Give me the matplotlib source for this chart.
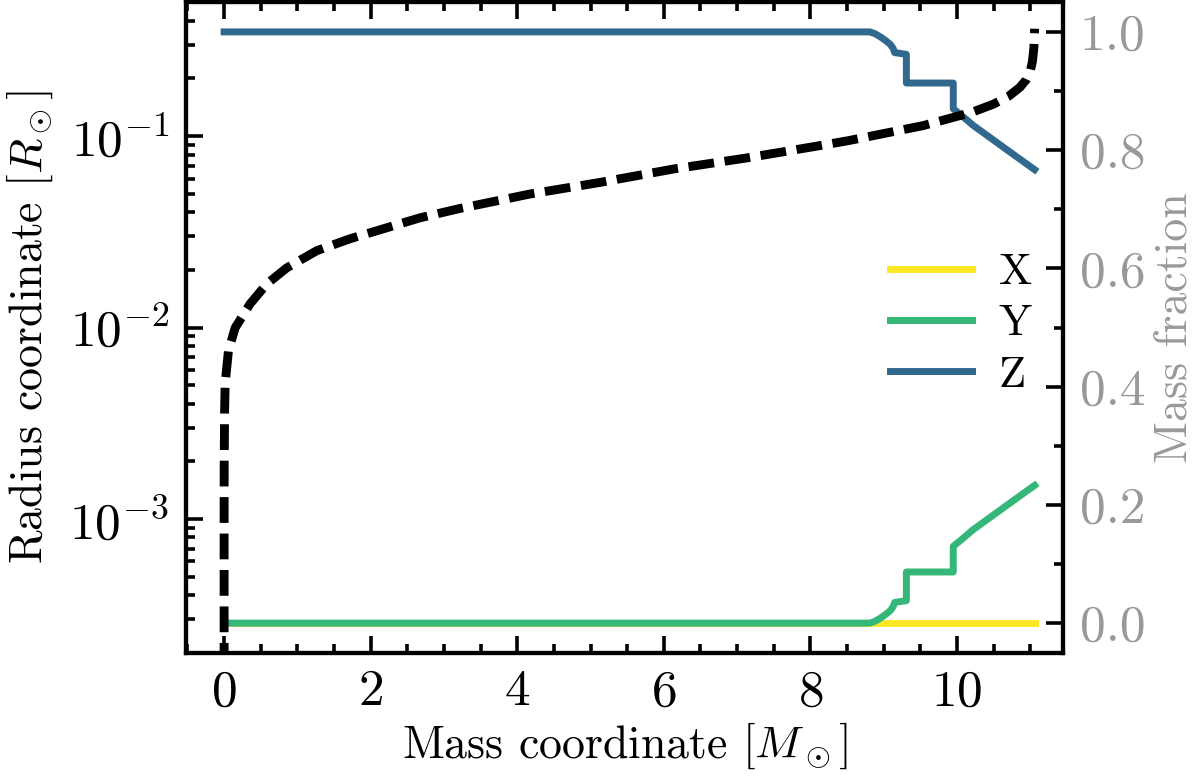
import matplotlib
matplotlib.use('Agg')
import matplotlib.pyplot as plt
from matplotlib.ticker import MultipleLocator, FormatStrFormatter

plt.rcParams['font.family'] = 'serif'
plt.rcParams['font.serif'] = ['cmr10']
plt.rcParams['mathtext.fontset'] = 'cm'
plt.rcParams['axes.formatter.use_mathtext'] = True
plt.rcParams['font.size'] = 16.5

# radius profile
m_r = [0.0, 1e-6, 1e-5, 1e-4, 0.001, 0.007, 0.014, 0.059, 0.150, 0.355, 0.583,
       0.855, 1.265, 1.72, 2.22, 2.67, 3.22, 4.17, 5.13, 6.13, 7.13, 8.13,
       8.52, 9.54, 10.20, 10.50, 10.70, 10.86, 10.95, 11.00, 11.03, 11.05,
       11.06]
radius = [1e-5, 1.9e-4, 4.1e-4, 8.9e-4, 0.0019, 0.00367, 0.00508, 0.00755,
          0.00995, 0.0133, 0.0169, 0.0205, 0.0252, 0.0291, 0.0332, 0.0374,
          0.0419, 0.0498, 0.0573, 0.0673, 0.0769, 0.0892, 0.0947, 0.1135,
          0.133, 0.147, 0.161, 0.180, 0.198, 0.218, 0.245, 0.290, 0.364]

# composition profile
m_c = [0.0, 8.81, 8.88, 8.95, 9.02, 9.09, 9.13, 9.15, 9.31, 9.31, 9.95, 9.95,
       10.04, 10.22, 10.41, 10.70, 11.06]
X = [0.0] * len(m_c)
Y = [0.0, 0.0, 0.003, 0.008, 0.014, 0.021, 0.028, 0.035, 0.038, 0.0865,
     0.0865, 0.130, 0.139, 0.158, 0.175, 0.201, 0.233]
Z = [1 - y for y in Y]

cX, cY, cZ = '#fde725', '#35b779', '#31688e'
grey = '#999999'

fig, ax = plt.subplots(figsize=(6, 3.885), dpi=200)
fig.subplots_adjust(left=0.155, right=0.886, bottom=0.16, top=0.997)

ax.plot(m_r, radius, color='k', lw=3.2, ls='--', dashes=(2.9, 1.2), zorder=3)
ax.set_yscale('log')
ax.set_ylim(2e-4, 0.5)
ax.set_xlim(-0.52, 11.45)
ax.set_xlabel(r'Mass coordinate $[M_\odot]$', labelpad=2)
ax.set_ylabel(r'Radius coordinate $[R_\odot]$', labelpad=5)
ax.xaxis.set_major_locator(MultipleLocator(2))
ax.xaxis.set_minor_locator(MultipleLocator(0.5))

ax2 = ax.twinx()
ax2.plot(m_c, X, color=cX, lw=2.5, label='X')
ax2.plot(m_c, Y, color=cY, lw=2.5, label='Y')
ax2.plot(m_c, Z, color=cZ, lw=2.5, label='Z')
ax2.set_ylim(-0.05, 1.05)
ax2.set_ylabel('Mass fraction', color=grey, labelpad=3)
ax2.yaxis.set_major_locator(MultipleLocator(0.2))
ax2.yaxis.set_minor_locator(MultipleLocator(0.1))
ax2.yaxis.set_major_formatter(FormatStrFormatter('%.1f'))
ax2.legend(loc='center right', frameon=False, handlelength=1.85,
           handletextpad=0.6, labelspacing=0.25, fontsize=16,
           bbox_to_anchor=(1.01, 0.505))

ax.set_zorder(ax2.get_zorder() + 1)
ax.patch.set_visible(False)

for a in (ax, ax2):
    for s in a.spines.values():
        s.set_linewidth(1.5)
ax.tick_params(which='both', direction='in', top=True, right=False, width=1.3,
               labelsize=18.5)
ax.tick_params(which='major', length=6, pad=6)
ax.tick_params(which='minor', length=3.2)
ax2.tick_params(which='both', direction='in', width=1.3, labelcolor=grey,
                labelsize=18.5)
ax2.tick_params(which='major', length=6, pad=6)
ax2.tick_params(which='minor', length=3.2)

fig.savefig('out.png', dpi=200)
